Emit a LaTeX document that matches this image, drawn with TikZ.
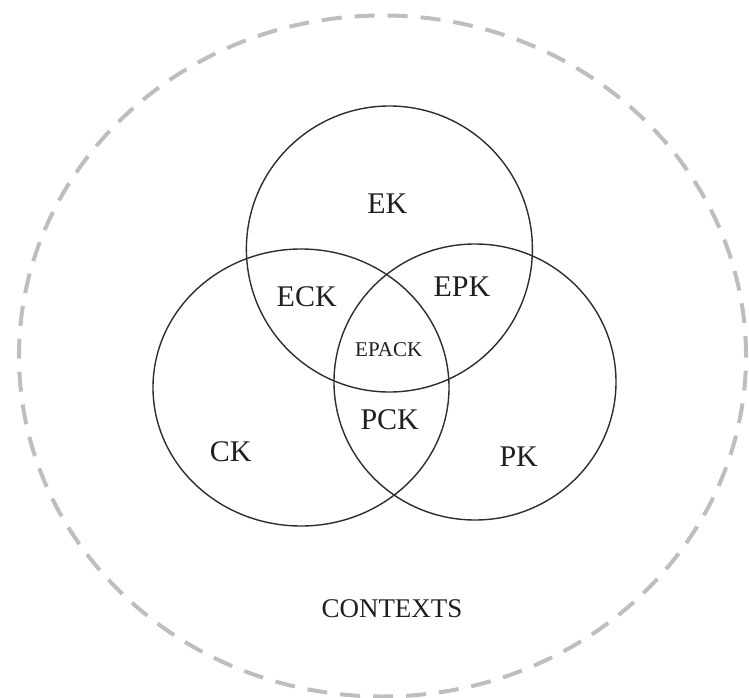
\documentclass[tikz,border=0pt]{standalone}
\usepackage{fontspec}
\setmainfont{Liberation Serif}
\definecolor{ringgray}{RGB}{190,190,190}
\definecolor{inkgray}{RGB}{45,45,45}

\begin{document}
\begin{tikzpicture}[x=1pt, y=-1pt, line cap=round, line join=round]
  \tikzset{
    venn/.style={draw=inkgray, line width=1.4pt},
    ctxring/.style={draw=ringgray, line width=4pt, line cap=butt, dash pattern=on 20pt off 13pt},
    lbl/.style={anchor=center, inner sep=0pt, text=black!88, font=\fontsize{30}{36}\selectfont},
  }

  %% ════ outer dashed ring (contexts) ════
  \draw[ctxring] (382.5,356.0) ellipse [x radius=363.5pt, y radius=340.5pt];

  %% ════ three overlapping circles ════
  \draw[venn] (389.4,249.0) ellipse [x radius=143.0pt, y radius=143.0pt];   % E
  \draw[venn] (301.0,387.5) ellipse [x radius=148.0pt, y radius=138.5pt];   % C
  \draw[venn] (475.0,382.0) ellipse [x radius=141.0pt, y radius=138.0pt];   % P

  %% ════ region labels ════
  \node[lbl] (ek)    at (387.3,204.0) {EK};
  \node[lbl] (eck)   at (306.7,296.7) {ECK};
  \node[lbl] (epk)   at (462.0,286.7) {EPK};
  \node[lbl, font=\fontsize{21}{25}\selectfont] (epack) at (388.7,350.0) {EPACK};
  \node[lbl] (pck)   at (389.7,419.3) {PCK};
  \node[lbl] (ck)    at (230.8,451.7) {CK};
  \node[lbl] (pk)    at (518.7,456.7) {PK};
  \node[lbl, font=\fontsize{27}{32}\selectfont] (ctx) at (392.0,609.0) {CONTEXTS};

  % fix the canvas to the reference size
  \pgfresetboundingbox
  \path[use as bounding box] (0,0) rectangle (749,698);
\end{tikzpicture}
\end{document}
